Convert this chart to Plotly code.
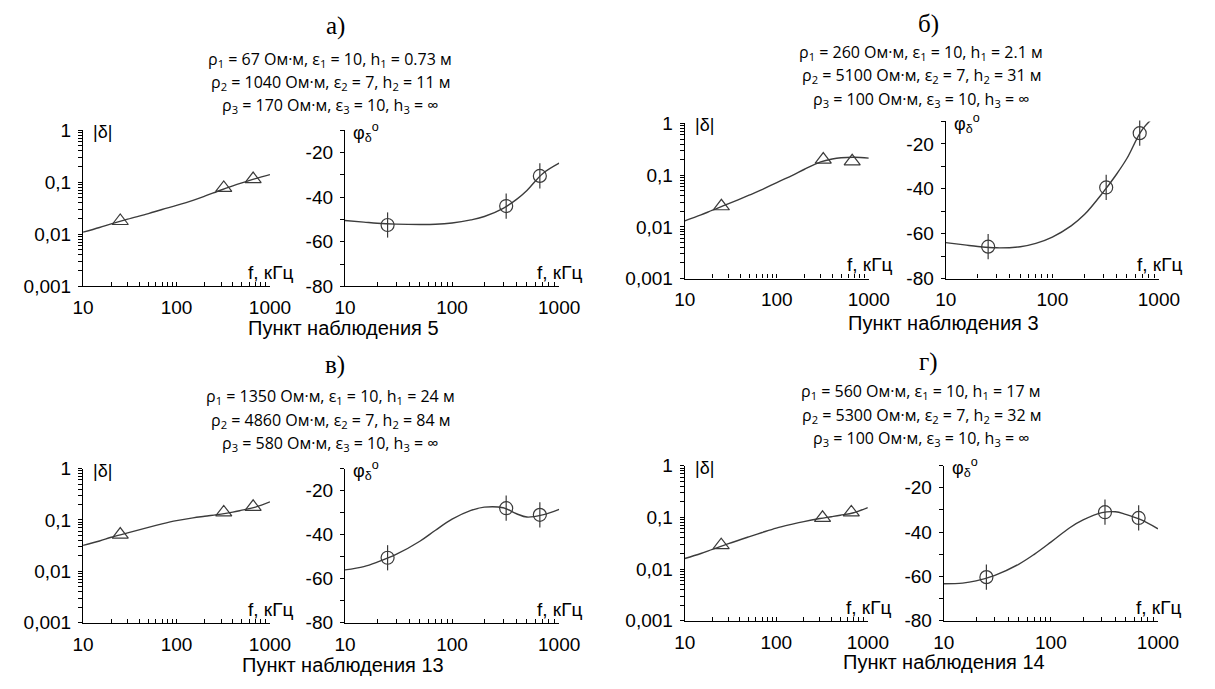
import plotly.graph_objects as go

W, H = 1215, 689

# ---------------- data ----------------
point_freq = [25, 320, 660]
curve_freq = [10, 15, 20, 30, 50, 70, 100, 150, 200, 300, 400, 500, 700, 1000]

panel_titles = ["а)", "б)", "в)", "г)"]
station_labels = ["Пункт наблюдения 5", "Пункт наблюдения 3",
                  "Пункт наблюдения 13", "Пункт наблюдения 14"]

rho1 = ["67", "260", "1350", "560"]
rho2 = ["1040", "5100", "4860", "5300"]
rho3 = ["170", "100", "580", "100"]
h1 = ["0.73", "2.1", "24", "17"]
h2 = ["11", "31", "84", "32"]
eps = ["10", "7", "10"]

amp_pts_a = [0.018, 0.078, 0.115]
amp_pts_b = [0.025, 0.20, 0.185]
amp_pts_c = [0.052, 0.14, 0.18]
amp_pts_d = [0.029, 0.098, 0.125]

phase_pts_a = [-52.5, -44.0, -30.5]
phase_pts_b = [-65.8, -39.4, -15.2]
phase_pts_c = [-50.5, -28.0, -31.0]
phase_pts_d = [-60.3, -31.0, -33.6]

amp_curve_a = [0.011, 0.0135, 0.0158, 0.0195, 0.025, 0.030, 0.036, 0.045, 0.054, 0.071, 0.085, 0.097, 0.117, 0.14]
amp_curve_b = [0.013, 0.017, 0.021, 0.028, 0.041, 0.053, 0.072, 0.10, 0.13, 0.18, 0.205, 0.217, 0.222, 0.213]
amp_curve_c = [0.032, 0.039, 0.046, 0.056, 0.072, 0.084, 0.097, 0.11, 0.118, 0.13, 0.142, 0.155, 0.178, 0.225]
amp_curve_d = [0.016, 0.020, 0.024, 0.031, 0.042, 0.051, 0.062, 0.074, 0.083, 0.095, 0.103, 0.11, 0.123, 0.155]

phase_curve_a = [-50.5, -51.2, -51.7, -52.1, -52.3, -52.2, -51.6, -50.2, -48.7, -45.0, -41.0, -37.0, -29.5, -24.8]
phase_curve_b = [-64.0, -65.0, -65.7, -66.3, -65.8, -64.3, -61.5, -56.5, -51.5, -41.5, -33.5, -26.5, -13.5, -6.0]
phase_curve_c = [-56.0, -54.5, -52.5, -49.0, -43.0, -38.0, -33.0, -29.0, -27.5, -27.8, -30.5, -32.0, -31.0, -28.5]
phase_curve_d = [-63.3, -63.0, -62.0, -59.5, -54.5, -50.0, -44.5, -38.0, -34.5, -31.2, -30.8, -32.0, -34.5, -38.5]

amp_pts = [amp_pts_a, amp_pts_b, amp_pts_c, amp_pts_d]
phase_pts = [phase_pts_a, phase_pts_b, phase_pts_c, phase_pts_d]
amp_curves = [amp_curve_a, amp_curve_b, amp_curve_c, amp_curve_d]
phase_curves = [phase_curve_a, phase_curve_b, phase_curve_c, phase_curve_d]

x_tickvals = [10, 20, 30, 40, 50, 60, 70, 80, 90, 100, 200, 300, 400, 500, 600, 700, 800, 900, 1000]
x_ticktext = ["10"] + [""] * 8 + ["100"] + [""] * 8 + ["1000"]
amp_tickvals = [0.001, 0.002, 0.003, 0.004, 0.005, 0.006, 0.007, 0.008, 0.009,
                0.01, 0.02, 0.03, 0.04, 0.05, 0.06, 0.07, 0.08, 0.09,
                0.1, 0.2, 0.3, 0.4, 0.5, 0.6, 0.7, 0.8, 0.9, 1]
amp_ticktext = ["0,001"] + [""] * 8 + ["0,01"] + [""] * 8 + ["0,1"] + [""] * 8 + ["1"]
phase_tickvals = [-80, -70, -60, -50, -40, -30, -20, -10]
phase_ticktext = ["-80", "", "-60", "", "-40", "", "-20", ""]

# ---------------- layout geometry (pixels) ----------------
# (amp x0, amp x1, phase x0, phase x1, top amp, bottom, top phase)
geom = [
    (74, 266, 343, 563, 124, 285, 124),
    (692, 881, 960, 1179, 117, 277, 115),
    (74, 266, 343, 563, 473, 632, 473),
    (692, 880, 958, 1178, 470, 630, 470),
]
title_pos = [(333, 16), (942, 14), (333, 366), (942, 363)]
param_pos = [(328, [51, 75, 99]), (935, [44, 68, 92]),
             (328, [399, 423, 447]), (935, [394, 418, 442])]
station_pos = [(341, 328), (958, 323), (341, 676), (958, 673)]


def px(x):
    return x / W


def py(y):
    return 1 - y / H


LINE_C = "#3c3c3c"
MARK_C = "#3a3a3a"
TICKFONT = dict(family="Liberation Sans, Arial, sans-serif", size=19, color="black")

fig = go.Figure()
layout = {}
annotations = []

for i in range(4):
    ax0, ax1, pxa0, pxa1, ta, bot, tp = geom[i]
    na = 2 * i + 1
    nb = 2 * i + 2
    xa = f"x{na}" if na > 1 else "x"
    ya = f"y{na}" if na > 1 else "y"
    xb = f"x{nb}"
    yb = f"y{nb}"

    # amplitude
    fig.add_trace(go.Scatter(x=curve_freq, y=amp_curves[i], mode="lines",
                             line=dict(color=LINE_C, width=1.4, shape="spline", smoothing=1.0),
                             xaxis=xa, yaxis=ya, showlegend=False, hoverinfo="skip"))
    fig.add_trace(go.Scatter(x=point_freq, y=amp_pts[i], mode="markers",
                             marker=dict(symbol="triangle-up-open", size=14, color=MARK_C,
                                         line=dict(width=1.2, color=MARK_C)),
                             xaxis=xa, yaxis=ya, showlegend=False, cliponaxis=False))
    # phase
    fig.add_trace(go.Scatter(x=curve_freq, y=phase_curves[i], mode="lines",
                             line=dict(color=LINE_C, width=1.4, shape="spline", smoothing=1.0),
                             xaxis=xb, yaxis=yb, showlegend=False, hoverinfo="skip"))
    fig.add_trace(go.Scatter(x=point_freq, y=phase_pts[i], mode="markers",
                             marker=dict(symbol="circle-open", size=13, color=MARK_C,
                                         line=dict(width=1.2, color=MARK_C)),
                             xaxis=xb, yaxis=yb, showlegend=False, cliponaxis=False))
    fig.add_trace(go.Scatter(x=point_freq, y=phase_pts[i], mode="markers",
                             marker=dict(symbol="line-ns-open", size=18, color=MARK_C,
                                         line=dict(width=1.2, color=MARK_C)),
                             xaxis=xb, yaxis=yb, showlegend=False, cliponaxis=False))

    common_x = dict(type="log", range=[1, 3], tickmode="array", tickvals=x_tickvals,
                    ticktext=x_ticktext, ticks="inside", ticklen=4, tickwidth=1,
                    tickcolor="black", showline=True, linecolor="black", linewidth=1.2,
                    showgrid=False, zeroline=False, tickfont=TICKFONT,
                    ticklabelstandoff=4)
    layout[("xaxis" if na == 1 else f"xaxis{na}")] = dict(
        common_x, domain=[px(ax0), px(ax1)], anchor=ya)
    layout[f"xaxis{nb}"] = dict(common_x, domain=[px(pxa0), px(pxa1)], anchor=yb)

    layout[("yaxis" if na == 1 else f"yaxis{na}")] = dict(
        type="log", range=[-3, 0], tickmode="array", tickvals=amp_tickvals,
        ticktext=amp_ticktext, ticks="outside", ticklen=4, tickwidth=1,
        tickcolor="black", showline=True, linecolor="black", linewidth=1.2,
        showgrid=False, zeroline=False, tickfont=TICKFONT,
        domain=[py(bot), py(ta)], anchor=xa, ticklabelstandoff=3)
    layout[f"yaxis{nb}"] = dict(
        range=[-80, -10], tickmode="array", tickvals=phase_tickvals,
        ticktext=phase_ticktext, ticks="outside", ticklen=4, tickwidth=1,
        tickcolor="black", showline=True, linecolor="black", linewidth=1.2,
        showgrid=False, zeroline=False, tickfont=TICKFONT,
        domain=[py(bot), py(tp)], anchor=xb, ticklabelstandoff=3)

    # axis captions inside plots
    annotations.append(dict(x=px(ax0 + 8), y=py(ta + 2), xref="paper", yref="paper",
                            text="|δ|", showarrow=False, xanchor="left", yanchor="middle",
                            font=dict(family="Liberation Sans, Arial", size=18, color="black")))
    annotations.append(dict(x=px(pxa0 + 6), y=py(tp + 2), xref="paper", yref="paper",
                            text="φ<sub>δ</sub><sup>o</sup>", showarrow=False, xanchor="left",
                            yanchor="middle",
                            font=dict(family="Liberation Sans, Arial", size=18, color="black")))
    annotations.append(dict(x=px(ax1 + 26), y=py(bot - 14), xref="paper", yref="paper",
                            text="f, кГц", showarrow=False, xanchor="right", yanchor="middle",
                            font=dict(family="Liberation Sans, Arial", size=19, color="black")))
    annotations.append(dict(x=px(pxa1 + 26), y=py(bot - 14), xref="paper", yref="paper",
                            text="f, кГц", showarrow=False, xanchor="right", yanchor="middle",
                            font=dict(family="Liberation Sans, Arial", size=19, color="black")))

    # panel title
    tx, ty = title_pos[i]
    annotations.append(dict(x=px(tx), y=py(ty), xref="paper", yref="paper",
                            text=panel_titles[i], showarrow=False, xanchor="center",
                            yanchor="middle",
                            font=dict(family="Liberation Serif, DejaVu Serif, serif", size=25,
                                      color="black")))
    # parameter lines
    cx, ys = param_pos[i]
    lines = [
        f"ρ<sub>1</sub> = {rho1[i]} Ом·м, ε<sub>1</sub> = {eps[0]}, h<sub>1</sub> = {h1[i]} м",
        f"ρ<sub>2</sub> = {rho2[i]} Ом·м, ε<sub>2</sub> = {eps[1]}, h<sub>2</sub> = {h2[i]} м",
        f"ρ<sub>3</sub> = {rho3[i]} Ом·м, ε<sub>3</sub> = {eps[2]}, h<sub>3</sub> = ∞",
    ]
    for t, yy in zip(lines, ys):
        annotations.append(dict(x=px(cx), y=py(yy), xref="paper", yref="paper",
                                text=t, showarrow=False, xanchor="center", yanchor="middle",
                                font=dict(family="Open Sans, sans-serif", size=16,
                                          color="black")))
    # station label
    sx, sy = station_pos[i]
    annotations.append(dict(x=px(sx), y=py(sy), xref="paper", yref="paper",
                            text=station_labels[i], showarrow=False, xanchor="center",
                            yanchor="middle",
                            font=dict(family="Liberation Sans, Arial", size=20, color="black")))

fig.update_layout(**layout)
fig.update_layout(width=W, height=H, margin=dict(l=0, r=0, t=0, b=0),
                  paper_bgcolor="white", plot_bgcolor="white",
                  annotations=annotations, showlegend=False)

fig.write_html("out.html")
